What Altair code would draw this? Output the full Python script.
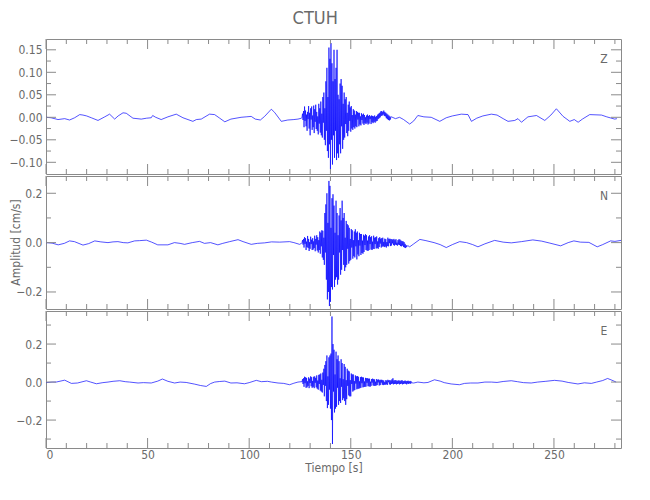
import altair as alt
import pandas as pd

TITLE = "CTUH"
X_MAX = 283
X_MAJOR = [0, 50, 100, 150, 200, 250]
X_MINOR = [10, 20, 30, 40, 60, 70, 80, 90, 110, 120, 130, 140, 160, 170, 180, 190,
           210, 220, 230, 240, 260, 270, 280]
BURST_START = 126.0  # burst samples every 0.25 s (values in thousandths of cm/s)

# ---------------- Z component ----------------
Z_pre_t = [0, 2.5, 5.9, 9.2, 11.6, 14.1, 16.6, 18.2, 20, 22.3, 25.6, 28.9, 31.3, 33.8, 35.5,
           37.9, 39.5, 42.8, 46.9, 49.5, 51.8, 52.5, 54, 56.7, 60, 64.1, 67.4, 72.3, 74, 76.4,
           80.5, 83, 85.5, 88, 91, 96, 98.5, 101, 103, 105.5, 107.6, 110.9, 112.5, 115.8, 119,
           122, 124, 125.75]
Z_pre_v = [0, -1, -5, -3, -6, -1, 6, 5, 3, -1, -7, 1, 7, -4, 3,
           10, 9, -2, -4, -2, -1, 4, 0, -5, 1, 7, -1, -9, -5, -4,
           7, 6, -2, -10, -4, 0, 1, 2, -4, -6, 2, 18, 11, -9, -6,
           -5, -4, -2]
Z_burst = [
    0, 8, -6, 14,  -22, 24, -8, 15,  -20, 6, -30, 12,  -4, 25, -25, 10,
    -40, 20, -5, 24,  -28, 4, -22, 26,  -35, 18, -10, 28,  -26, 12, -30, 2,
    -38, 30, -14, 20,  -34, 35, -40, 8,  -45, 45, -12, 55,  -50, 20, -62, 80,
    -30, 110, -75, 45,  -90, 155, -60, 130,  -115, 165, -50, 120,  -105, 80, -40, 150,
    -90, 85, -30, 110,  -95, 150, -80, 50,  -90, 40, -60, 75,  -80, 85, -20, 70,
    -70, 30, -50, 55,  -45, 40, -15, 45,  -35, 10, -42, 28,  -30, 35, -8, 22,
    -32, 25, -25, 5,  -28, 18, -22, 15,  -25, 6, -20, 14,  -22, 12, -5, 10,
    -20, 10, -16, 2,  -18, 9, -6, 6,  -14, 8, -17, 5,  -13, 0, -15, 4,
    -12, 6, -16, 3,  -14, 5, -4, 2,  -15, 4, -11, 3,  -13, 2, -10, 4,
    -12, 1, -9, 3,  -8, 6, -4, 8,  -2, 10, 0, 13,  3, 14, 4, 12,
    6, 15, 3, 12,  2, 10, -2, 8,  -4, 6, -6, 4,  -7, 2, -5, 1]
Z_post_t = [170, 172, 174, 176, 179, 181, 183, 186, 189.6, 193.8, 197, 200, 204.4, 207.7,
            209.4, 212, 215, 219.2, 222, 225, 227.4, 230.7, 232.3, 234, 237.2, 241.4, 245.5,
            248.5, 251.2, 254.5, 257.8, 260, 261.9, 264, 267.6, 273.4, 276, 279.9, 281]
Z_post_v = [1, -3, 0, -5, -15, -8, 4, 1, 0, -9, -1, 3, 7, 6,
            -9, -2, 3, 7, 5, -3, -9, -7, -3, -11, 1, 4, -7,
            5, 19, 2, -9, -5, -11, -4, 6, 5, 1, -4, -3]

# ---------------- N component ----------------
N_pre_t = [0, 3, 6, 9, 11.6, 14, 18.2, 21, 24, 27, 30.5, 33, 35.4, 38, 40.3, 43.6, 46, 49.4,
           52, 55, 60, 63.2, 66, 68.2, 72, 75.6, 78, 81, 84.6, 87, 90.4, 94.5, 97, 101, 104,
           107.6, 111, 115, 119.9, 122, 124.8, 125.75]
N_pre_v = [0, -2, -9, -3, 7, 4, -10, -4, 7, 3, 0, 3, 4, 0, -1, 7, 8, 10,
           2, -9, -9, 0, -3, -7, 0, 5, -3, 0, -9, -3, 4, 12, 4, -7, -3,
           -1, 3, 2, 4, 0, -7, -3]
N_burst = [
    0, 10, -8, 15,  -20, 22, -5, 18,  -30, 4, -18, 27,  -22, 15, -34, 2,
    -25, 24, -6, 12,  -30, 18, -28, 5,  -22, 28, -35, 15,  -8, 30, -32, 22,
    -40, 10, -30, 45,  -45, 40, -15, 50,  -60, 48, -70, 20,  -90, 120, -40, 155,
    -150, 200, -230, 80,  -200, 250, -257, 230,  -240, 60, -180, 180,  -190, 196, -50, 150,
    -180, 40, -150, 170,  -140, 120, -170, 30,  -150, 110, -40, 140,  -130, 90, -110, 170,
    -30, 100, -90, 120,  -115, 20, -100, 88,  -90, 75, -25, 70,  -85, 60, -75, 15,
    -70, 55, -20, 50,  -65, 10, -55, 45,  -60, 54, -15, 40,  -68, 45, -48, 10,
    -55, 40, -12, 35,  -50, 35, -42, 8,  -45, 32, -38, 28,  -10, 34, -30, 30,
    -32, 8, -34, 25,  -30, 30, -6, 22,  -28, 26, -30, 4,  -25, 28, -26, 20,
    -6, 22, -24, 25,  -22, 5, -25, 18,  -18, 22, -4, 16,  -20, 18, -16, 20,
    -15, 3, -18, 16,  -16, 14, -20, 2,  -14, 20, -15, 15,  -2, 16, -14, 14,
    -12, 14, -3, 12,  -10, 15, -12, 10,  -8, 14, -10, 0,  -12, 10, -8, 14,
    -10, 12, -14, 8,  -15, 6, -12, 5,  -18, 2, -20, -5,  -22, -10, -18, -15]
N_post_t = [178, 179, 181, 184, 187, 191, 194, 197, 200, 203.6, 207, 210, 212.6, 216, 220.8,
            225, 229, 234, 239.6, 244, 248, 253.3, 257, 259.8, 263, 267.2, 271.3, 274, 277.9,
            280, 283]
N_post_v = [-12, -17, -5, 13, 8, 0, -8, -20, -8, 4, 0, -8, -17, -5, 9,
            2, -1, 4, 11, 6, -2, -13, 0, 7, 2, 1, -17, -8, 7,
            5, 9]

# ---------------- E component ----------------
E_pre_t = [0, 3, 5, 9.2, 12.5, 15.5, 19.9, 22, 24.8, 28, 30.5, 33, 36.3, 39, 41.2, 45.3, 48,
           51.8, 55, 57.3, 60, 63.3, 66, 69, 73.2, 76, 78.9, 81, 83, 85.5, 88, 91, 94, 97.7,
           100, 103.5, 106, 109, 111, 114.2, 117, 119.9, 122, 124, 125.75]
E_pre_v = [-3, 0, 0, 10, -7, -5, 7, 0, -9, -3, 0, 4, 7, 2, 0, -5, -3,
           -5, 5, 16, 4, -5, 0, -2, -11, -18, -23, -8, 0, 3, 5, -5, -4, -9,
           -3, 9, 2, 4, 0, -5, -7, -14, -6, 0, 2]
E_burst = [
    0, 15, -10, 20,  -25, 28, -6, 25,  -30, 22, -28, 4,  -20, 25, -32, 18,
    -5, 30, -22, 26,  -30, 6, -25, 28,  -32, 30, -4, 22,  -28, 35, -35, 8,
    -40, 38, -10, 40,  -45, 45, -50, 12,  -55, 50, -15, 70,  -75, 90, -20, 110,
    -100, 140, -137, 30,  -120, 130, -40, 140,  -140, 150, -200, 345,  -326, 200, -50, 170,
    -160, 40, -140, 160,  -130, 120, -30, 140,  -120, 110, -100, 20,  -110, 120, -25, 100,
    -95, 15, -85, 95,  -100, 80, -120, 10,  -90, 70, -20, 60,  -70, 56, -75, 10,
    -75, 45, -10, 40,  -50, 40, -45, 5,  -42, 35, -8, 30,  -38, 32, -35, 28,
    -35, 4, -32, 26,  -30, 28, -6, 25,  -28, 24, -26, 3,  -25, 22, -24, 20,
    -4, 20, -22, 18,  -22, 18, -25, 2,  -20, 16, -3, 18,  -18, 15, -20, 14,
    -20, 2, -18, 16,  -16, 12, -2, 14,  -18, 10, -16, 12,  -3, 12, -14, 10,
    -16, 8, -14, 0,  -14, 10, -12, 8,  -15, 12, -1, 9,  -12, 10, -14, 8,
    -10, 14, -8, 20,  -12, 8, -10, 10,  -9, 10, -12, 6,  -10, 8, -8, 9,
    -12, 6, -10, 8,  -8, 10, -12, 5,  -10, 6, -8, 8,  -9, 5, -12, 6,
    -8, 7, -10, 4,  -7, 6, -9, 3]
E_post_t = [180, 181, 183, 186, 188, 191.2, 194, 196, 199.4, 203.5, 206, 209, 212.6, 216,
            219.2, 222, 225, 229, 232, 235, 238.8, 242, 246, 250.3, 254, 257, 261.8, 265,
            268.4, 271, 274, 276.4, 278.5, 280.6]
E_post_v = [-4, -5, 0, -4, -2, 12, 5, -3, -10, -14, -7, -5, -5, 0,
            0, -2, 3, 7, 2, -3, -5, 0, 4, 9, 5, -2, -10, -4,
            -7, 0, 8, 19, 10, 0]

# axis settings per panel
Z_DOM = [-0.126, 0.174]
Z_MAJOR = [-0.10, -0.05, 0.0, 0.05, 0.10, 0.15]
Z_MINOR = [-0.075, -0.025, 0.025, 0.075, 0.125]
N_DOM = [-0.269, 0.270]
N_MAJOR = [-0.2, 0.0, 0.2]
N_MINOR = [-0.1, 0.1]
E_DOM = [-0.347, 0.374]
E_MAJOR = [-0.2, 0.0, 0.2]
E_MINOR = [-0.3, -0.1, 0.1, 0.3]

W = 575
GRAY = "#8a8a8a"
TXT = "#6a6a6a"
FONT = "'DejaVu Sans Condensed', 'Liberation Sans Narrow', 'DejaVu Sans', sans-serif"
BLUE = "#0000ff"


def build(pre_t, pre_v, burst_v, post_t, post_v):
    t = list(pre_t) + [BURST_START + 0.25 * i for i in range(len(burst_v))] + list(post_t)
    v = [x / 1000.0 for x in list(pre_v) + list(burst_v) + list(post_v)]
    return pd.DataFrame({"t": t, "v": v})


def panel(df, dom, ymaj, ymin, fmt, letter, h, bottom, ytitle=False):
    xs = alt.Scale(domain=[0, X_MAX], nice=False, zero=False)
    ys = alt.Scale(domain=dom, nice=False, zero=False)
    if bottom:
        xax = alt.Axis(values=X_MAJOR, ticks=False, domain=False, grid=False,
                       labelPadding=1, title="Tiempo [s]", titlePadding=2)
    else:
        xax = None
    yax = alt.Axis(values=ymaj, format=fmt, ticks=False, domain=False, grid=False,
                   labelPadding=4, title=None, minExtent=34, maxExtent=34)

    line = alt.Chart(df).mark_line(color=BLUE, strokeWidth=0.75, opacity=0.9, clip=True).encode(
        x=alt.X("t:Q", scale=xs, axis=xax),
        y=alt.Y("v:Q", scale=ys, axis=yax),
    )
    layers = [line]

    def xt(vals, length, top):
        d = pd.DataFrame({"t": vals})
        if top:
            yy, yy2 = alt.value(0), alt.value(length)
        else:
            yy, yy2 = alt.value(h), alt.value(h - length)
        return alt.Chart(d).mark_rule(color=GRAY, strokeWidth=1).encode(
            x=alt.X("t:Q", scale=xs, axis=xax), y=yy, y2=yy2)

    def yt(vals, length, left):
        d = pd.DataFrame({"v": vals})
        if left:
            xx, xx2 = alt.value(0), alt.value(length)
        else:
            xx, xx2 = alt.value(W), alt.value(W - length)
        return alt.Chart(d).mark_rule(color=GRAY, strokeWidth=1).encode(
            y=alt.Y("v:Q", scale=ys, axis=yax), x=xx, x2=xx2)

    for top in (True, False):
        layers.append(xt(X_MAJOR, 10, top))
        layers.append(xt(X_MINOR, 5, top))
    for left in (True, False):
        layers.append(yt(ymaj, 10, left))
        layers.append(yt(ymin, 5, left))

    lab = alt.Chart(pd.DataFrame({"s": [letter]})).mark_text(
        font=FONT, fontSize=12, color=TXT, align="center", baseline="middle").encode(
        text="s:N", x=alt.value(558), y=alt.value(20))
    layers.append(lab)
    if ytitle:
        yt_txt = alt.Chart(pd.DataFrame({"s": ["Amplitud [cm/s]"]})).mark_text(
            font=FONT, fontSize=12, color=TXT, angle=270, align="center",
            baseline="middle").encode(text="s:N", x=alt.value(-30), y=alt.value(h / 2))
        layers.append(yt_txt)
    return alt.layer(*layers).properties(width=W, height=h)


dfZ = build(Z_pre_t, Z_pre_v, Z_burst, Z_post_t, Z_post_v)
dfN = build(N_pre_t, N_pre_v, N_burst, N_post_t, N_post_v)
dfE = build(E_pre_t, E_pre_v, E_burst, E_post_t, E_post_v)

pZ = panel(dfZ, Z_DOM, Z_MAJOR, Z_MINOR, ".2f", "Z", 135, False)
pN = panel(dfN, N_DOM, N_MAJOR, N_MINOR, ".1f", "N", 133, False, ytitle=True)
pE = panel(dfE, E_DOM, E_MAJOR, E_MINOR, ".1f", "E", 137, True)

chart = alt.vconcat(pZ, pN, pE, spacing=0).resolve_scale(y="independent").properties(
    title=alt.TitleParams(TITLE, fontSize=18, color=TXT, font=FONT, fontWeight="normal",
                          anchor="middle", offset=10),
    padding={"left": 0, "top": 2, "right": 5, "bottom": 5},
).configure_view(stroke=GRAY, strokeWidth=1).configure_axis(
    labelFont=FONT, labelColor=TXT, labelFontSize=12,
    titleFont=FONT, titleColor=TXT, titleFontSize=12, titleFontWeight="normal",
).configure_concat(spacing=0)

chart.save("out.html", embed_options={"renderer": "svg", "actions": False})
